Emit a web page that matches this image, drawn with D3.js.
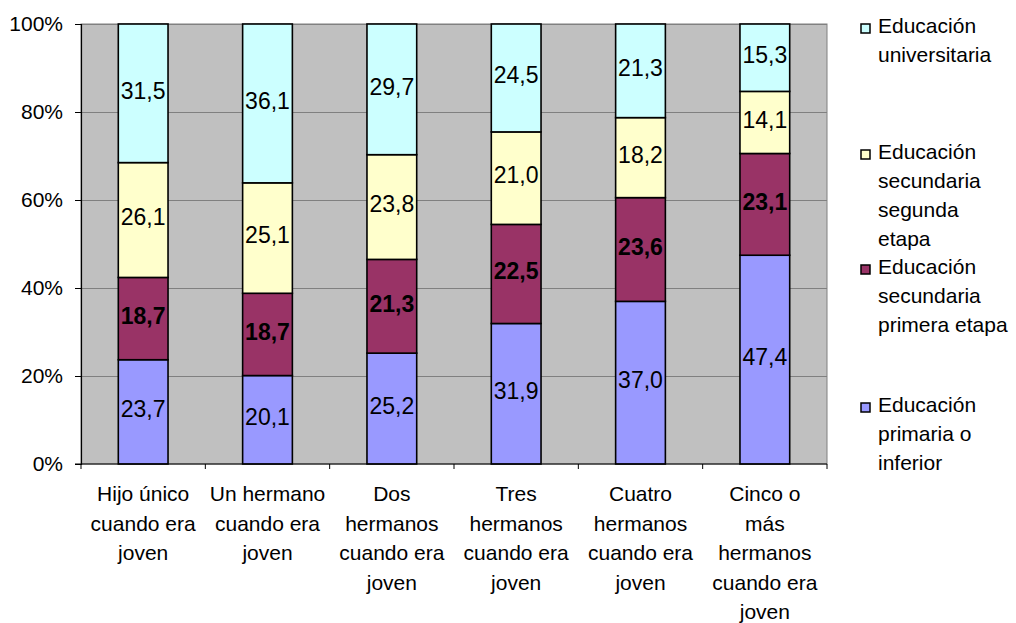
<!DOCTYPE html>
<html>
<head>
<meta charset="utf-8">
<script src="https://cdn.jsdelivr.net/npm/d3@7"></script>
<style>
  html, body { margin: 0; padding: 0; background: #ffffff; }
  svg { display: block; font-family: "Liberation Sans", Arial, sans-serif; }
</style>
</head>
<body>
<svg id="chart" width="1016" height="623"></svg>
<script>
// Categories (number of siblings), each label split into lines
const categories = ["Hijo único", "Un hermano", "Dos hermanos", "Tres hermanos", "Cuatro hermanos", "Cinco o más hermanos"];
const categoryLines = [
  ["Hijo único", "cuando era", "joven"],
  ["Un hermano", "cuando era", "joven"],
  ["Dos", "hermanos", "cuando era", "joven"],
  ["Tres", "hermanos", "cuando era", "joven"],
  ["Cuatro", "hermanos", "cuando era", "joven"],
  ["Cinco o", "más", "hermanos", "cuando era", "joven"]
];

// Education level shares (%), stacked bottom to top
const primaria      = [23.7, 20.1, 25.2, 31.9, 37.0, 47.4];
const primeraEtapa  = [18.7, 18.7, 21.3, 22.5, 23.6, 23.1];
const segundaEtapa  = [26.1, 25.1, 23.8, 21.0, 18.2, 14.1];
const universitaria = [31.5, 36.1, 29.7, 24.5, 21.3, 15.3];

const seriesKeys   = ["primaria", "primeraEtapa", "segundaEtapa", "universitaria"];
const seriesValues = [primaria, primeraEtapa, segundaEtapa, universitaria];
const seriesColors = ["#9999FF", "#993366", "#FFFFCC", "#CCFFFF"];
const seriesBold   = [false, true, false, false];

// Legend entries, top to bottom
const legendLines = [
  ["Educación", "universitaria"],
  ["Educación", "secundaria", "segunda", "etapa"],
  ["Educación", "secundaria", "primera etapa"],
  ["Educación", "primaria o", "inferior"]
];
const legendSeries = [3, 2, 1, 0];

const yTicks = [0, 0.2, 0.4, 0.6, 0.8, 1];

// ---- layout ----
const plot = { left: 81, right: 827, top: 24, bottom: 464 };
const FONT = 21;
const LABEL_FONT = 23;

const svg = d3.select("#chart");

const table = categories.map((c, i) => {
  const row = { category: c };
  seriesKeys.forEach((k, s) => { row[k] = seriesValues[s][i]; });
  return row;
});

const stacked = d3.stack().keys(seriesKeys).offset(d3.stackOffsetExpand)(table);

const x = d3.scaleBand()
  .domain(categories)
  .range([plot.left, plot.right])
  .paddingInner(0.6)
  .paddingOuter(0.3);

const y = d3.scaleLinear().domain([0, 1]).range([plot.bottom, plot.top]);

// plot background
svg.append("rect")
  .attr("x", plot.left).attr("y", plot.top)
  .attr("width", plot.right - plot.left).attr("height", plot.bottom - plot.top)
  .attr("fill", "#C0C0C0")
  .attr("stroke", "#808080").attr("stroke-width", 1);

// horizontal gridlines
svg.append("g").selectAll("line")
  .data(yTicks.filter(t => t > 0))
  .join("line")
  .attr("x1", plot.left).attr("x2", plot.right)
  .attr("y1", d => Math.round(y(d)) + 0.5).attr("y2", d => Math.round(y(d)) + 0.5)
  .attr("stroke", "#808080").attr("stroke-width", 1);

// stacked bars
const layer = svg.append("g").selectAll("g")
  .data(stacked)
  .join("g")
  .attr("fill", (d, i) => seriesColors[i]);

layer.selectAll("rect")
  .data(d => d)
  .join("rect")
  .attr("x", d => x(d.data.category))
  .attr("width", x.bandwidth())
  .attr("y", d => y(d[1]))
  .attr("height", d => y(d[0]) - y(d[1]))
  .attr("stroke", "#000").attr("stroke-width", 1.6);

// value labels
const fmt = v => d3.format(".1f")(v).replace(".", ",");
stacked.forEach((ser, s) => {
  svg.append("g").selectAll("text")
    .data(ser)
    .join("text")
    .attr("x", d => x(d.data.category) + x.bandwidth() / 2)
    .attr("y", d => (y(d[0]) + y(d[1])) / 2 + LABEL_FONT * 0.36 - 3)
    .attr("text-anchor", "middle")
    .attr("font-size", LABEL_FONT)
    .attr("font-weight", seriesBold[s] ? "bold" : "normal")
    .attr("fill", "#000")
    .text(d => fmt(d.data[ser.key]));
});

// y axis
const yAxis = svg.append("g")
  .attr("transform", `translate(${plot.left},0)`)
  .call(d3.axisLeft(y).tickValues(yTicks).tickFormat(d3.format(".0%")).tickSize(6).tickPadding(12));
yAxis.select(".domain").attr("stroke", "#000").attr("stroke-width", 1.2);
yAxis.selectAll(".tick line").attr("stroke", "#000");
yAxis.selectAll("text")
  .attr("font-size", FONT)
  .attr("font-family", "Liberation Sans, Arial, sans-serif")
  .attr("fill", "#000");

// x axis line and boundary ticks
svg.append("line")
  .attr("x1", plot.left - 6).attr("x2", plot.right)
  .attr("y1", plot.bottom).attr("y2", plot.bottom)
  .attr("stroke", "#000").attr("stroke-width", 1.2);
const boundaries = d3.range(categories.length + 1).map(i => plot.left + i * x.step());
svg.append("g").selectAll("line")
  .data(boundaries)
  .join("line")
  .attr("x1", d => d).attr("x2", d => d)
  .attr("y1", plot.bottom).attr("y2", plot.bottom + 5)
  .attr("stroke", "#000").attr("stroke-width", 1);

// category labels
svg.append("g").selectAll("text")
  .data(categories)
  .join("text")
  .attr("text-anchor", "middle")
  .attr("font-size", FONT)
  .attr("fill", "#000")
  .each(function (c, i) {
    const t = d3.select(this);
    const cx = x(c) + x.bandwidth() / 2;
    categoryLines[i].forEach((line, j) => {
      t.append("tspan").attr("x", cx).attr("y", 501 + j * 29.5).text(line);
    });
  });

// legend
const legendBaselines = [33, 159, 274, 412];
const legend = svg.append("g");
legendLines.forEach((lines, k) => {
  const b = legendBaselines[k];
  legend.append("rect")
    .attr("x", 861).attr("y", b - 9)
    .attr("width", 9).attr("height", 9)
    .attr("fill", seriesColors[legendSeries[k]])
    .attr("stroke", "#000").attr("stroke-width", 1.5);
  const t = legend.append("text")
    .attr("font-size", FONT)
    .attr("fill", "#000");
  lines.forEach((line, j) => {
    t.append("tspan").attr("x", 878).attr("y", b + j * 29).text(line);
  });
});
</script>
</body>
</html>
